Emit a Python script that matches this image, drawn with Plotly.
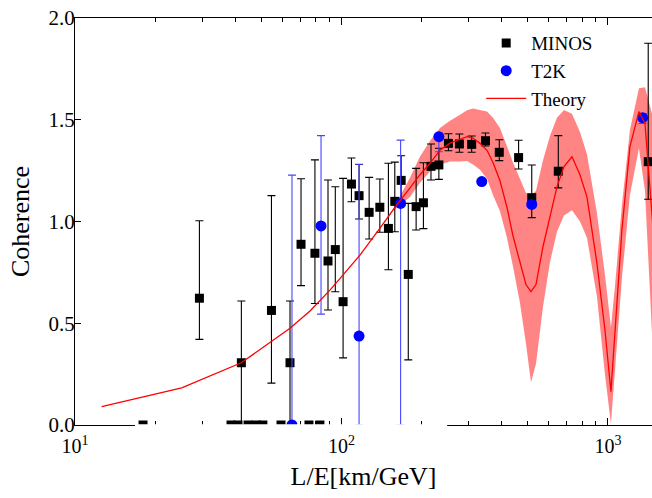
import math
import plotly.graph_objects as go

# ---------------- data ----------------
theory_x = [12.59, 25.14, 42.07, 54.54, 64.08, 76.18, 83.07, 90.53, 103.1, 117.3, 139.5, 158.8,
            180.7, 197.1, 214.8, 234.2, 255.4, 278.5, 295.8, 311.5, 330.9, 351.6, 370.3, 393.3,
            417.8, 440.0, 467.5, 492.3, 514.1, 536.8, 570.2, 605.8, 643.5, 683.8, 732.8, 785.2,
            834.2, 909.3, 974.3, 1026, 1062, 1128, 1209, 1307, 1377, 1413, 1463, 1514]
theory_y = [0.09, 0.183, 0.306, 0.41, 0.475, 0.56, 0.61, 0.663, 0.749, 0.835, 0.967, 1.07,
            1.165, 1.23, 1.286, 1.35, 1.385, 1.405, 1.417, 1.41, 1.384, 1.35, 1.29, 1.20,
            1.07, 0.93, 0.80, 0.69, 0.655, 0.69, 0.876, 1.03, 1.17, 1.27, 1.318, 1.23,
            1.12, 0.794, 0.467, 0.164, 0.467, 0.958, 1.368, 1.54, 1.482, 1.286, 1.04, 0.78]

band_x = [158.8, 180.7, 197.1, 214.8, 234.2, 255.4, 278.5, 295.8, 311.5, 330.9, 351.6, 370.3,
          393.3, 417.8, 440.0, 467.5, 492.3, 514.1, 536.8, 570.2, 605.8, 643.5, 683.8, 732.8,
          785.2, 834.2, 909.3, 974.3, 1026, 1062, 1128, 1209, 1307, 1377, 1413, 1463, 1514]
band_upper = [1.08, 1.215, 1.32, 1.396, 1.46, 1.495, 1.525, 1.547, 1.555, 1.549, 1.54, 1.51,
              1.46, 1.37, 1.29, 1.21, 1.14, 1.13, 1.15, 1.30, 1.42, 1.51, 1.548, 1.53,
              1.44, 1.33, 1.04, 0.74, 0.48, 0.68, 1.08, 1.45, 1.655, 1.66, 1.60, 1.53, 1.30]
band_lower = [1.06, 1.12, 1.19, 1.246, 1.28, 1.295, 1.295, 1.297, 1.28, 1.254, 1.21, 1.13,
              1.05, 0.92, 0.78, 0.60, 0.40, 0.21, 0.30, 0.58, 0.80, 0.95, 1.03, 1.055,
              1.00, 0.92, 0.63, 0.25, 0.005, 0.27, 0.72, 1.13, 1.36, 1.15, 0.85, 0.45, 0.15]

minos_x = [29.3, 42.1, 54.6, 64.1, 70.5, 79.5, 89.0, 94.8, 101.4, 109, 116.4, 127, 139.3, 150,
           158.5, 167.5, 178.1, 190.6, 203, 216.7, 232, 252, 277, 308, 347, 391, 462, 517.6,
           651, 1416]
minos_y = [0.623, 0.306, 0.563, 0.306, 0.888, 0.844, 0.806, 0.862, 0.606, 1.184, 1.127, 1.045,
           1.07, 0.966, 1.099, 1.202, 0.74, 1.073, 1.092, 1.271, 1.278, 1.384, 1.381, 1.379,
           1.397, 1.34, 1.314, 1.117, 1.247, 1.294]
minos_hi = [1.004, 0.609, 1.127, 0.609, 1.21, 1.303, 1.204, 1.171, 1.212, 1.312, 1.28, 1.217,
            1.209, 1.286, 1.292, 1.323, 1.089, 1.261, 1.289, 1.381, 1.36, 1.431, 1.43, 1.42,
            1.435, 1.402, 1.399, 1.278, 1.422, 1.876]
minos_lo = [0.421, 0.0, 0.206, 0.0, 0.685, 0.597, 0.565, 0.655, 0.33, 1.097, 1.012, 0.914,
            0.947, 0.763, 0.95, 1.08, 0.32, 0.958, 0.965, 1.204, 1.207, 1.348, 1.34, 1.34,
            1.371, 1.299, 1.258, 1.019, 1.165, 1.109]
minos_zero_x = [18.0, 38.5, 40.9, 44.6, 47.8, 50.7, 59.3, 75.5, 83.0]
minos_zero_y = [0, 0, 0, 0, 0, 0, 0, 0, 0]

t2k_x = [65.2, 83.8, 116.4, 166.7, 232, 336, 517.6, 1349]
t2k_y = [0.0, 0.978, 0.437, 1.089, 1.417, 1.196, 1.084, 1.51]
t2k_hi = [1.228, 1.422, 1.281, 1.40, 1.427, 1.196, 1.084, 1.53]
t2k_lo = [0.0, 0.545, 0.0, 0.0, 1.343, 1.196, 1.084, 1.482]

y_ticks = [0.0, 0.5, 1.0, 1.5, 2.0]
y_ticktext = ["0.0", "0.5", "1.0", "1.5", "2.0"]
x_ticks = [10, 100, 1000]
x_ticktext = ["10<sup>1</sup>", "10<sup>2</sup>", "10<sup>3</sup>"]
x_minor = [m * d for d in (10, 100, 1000) for m in range(2, 10)]

FONT = "Liberation Serif"

fig = go.Figure()

# theory uncertainty band
fig.add_trace(go.Scatter(x=band_x, y=band_lower, mode="lines", line=dict(width=0, color="rgba(0,0,0,0)"),
                         showlegend=False, hoverinfo="skip"))
fig.add_trace(go.Scatter(x=band_x, y=band_upper, mode="lines", line=dict(width=0, color="rgba(0,0,0,0)"),
                         fill="tonexty", fillcolor="rgba(255,0,0,0.48)", showlegend=False, hoverinfo="skip"))

# zero-valued MINOS points
fig.add_trace(go.Scatter(x=minos_zero_x, y=minos_zero_y, mode="markers",
                         marker=dict(symbol="square", size=9, color="black"), showlegend=False))

fig.add_trace(go.Scatter(
    x=minos_x, y=minos_y, mode="markers", name="MINOS", legendgroup="a",
    marker=dict(symbol="square", size=9, color="black"),
    error_y=dict(type="data", symmetric=False,
                 array=[h - v for h, v in zip(minos_hi, minos_y)],
                 arrayminus=[v - l for v, l in zip(minos_y, minos_lo)],
                 color="black", thickness=1.1, width=4)))

fig.add_trace(go.Scatter(
    x=t2k_x, y=t2k_y, mode="markers", name="T2K", legendgroup="b",
    marker=dict(symbol="circle", size=11, color="#0000FF"),
    error_y=dict(type="data", symmetric=False,
                 array=[h - v for h, v in zip(t2k_hi, t2k_y)],
                 arrayminus=[v - l for v, l in zip(t2k_y, t2k_lo)],
                 color="rgb(70,70,255)", thickness=1.1, width=4)))

fig.add_trace(go.Scatter(x=theory_x, y=theory_y, mode="lines", name="Theory", legendgroup="c",
                         line=dict(color="#FF0000", width=1.3)))

fig.update_layout(
    width=652, height=498,
    margin=dict(l=75, r=0, t=18, b=73),
    plot_bgcolor="white", paper_bgcolor="white",
    font=dict(family=FONT, color="black"),
    legend=dict(x=0.704, y=0.985, xanchor="left", yanchor="top", font=dict(family=FONT, size=19),
                bgcolor="rgba(0,0,0,0)", tracegroupgap=0, traceorder="normal", itemwidth=40),
    xaxis=dict(type="log", range=[1, math.log10(1463)], showline=True, linecolor="black", linewidth=1.3,
               mirror="ticks", ticks="inside", ticklen=7, tickwidth=1.2, tickcolor="black",
               tickvals=x_ticks, ticktext=x_ticktext, tickfont=dict(family=FONT, size=20),
               ticklabelstandoff=3,
               minor=dict(ticks="inside", ticklen=4, tickwidth=1.1, tickcolor="black", tickvals=x_minor),
               showgrid=False, zeroline=False,
               title=dict(text="L/E[km/GeV]", font=dict(family=FONT, size=26), standoff=10)),
    yaxis=dict(range=[0, 2.0], showline=True, linecolor="black", linewidth=1.3,
               ticks="inside", ticklen=6, tickwidth=1.2, tickcolor="black",
               tickvals=y_ticks, ticktext=y_ticktext, tickfont=dict(family=FONT, size=21),
               ticklabelstandoff=-5,
               showgrid=False, zeroline=False,
               title=dict(text="Coherence", font=dict(family=FONT, size=26), standoff=11)),
    shapes=[dict(type="rect", xref="paper", yref="paper", x0=0.104, x1=0.645, y0=-0.004, y1=0.002,
                 fillcolor="white", line=dict(width=0), layer="above")],
)

fig.write_html("out.html")
